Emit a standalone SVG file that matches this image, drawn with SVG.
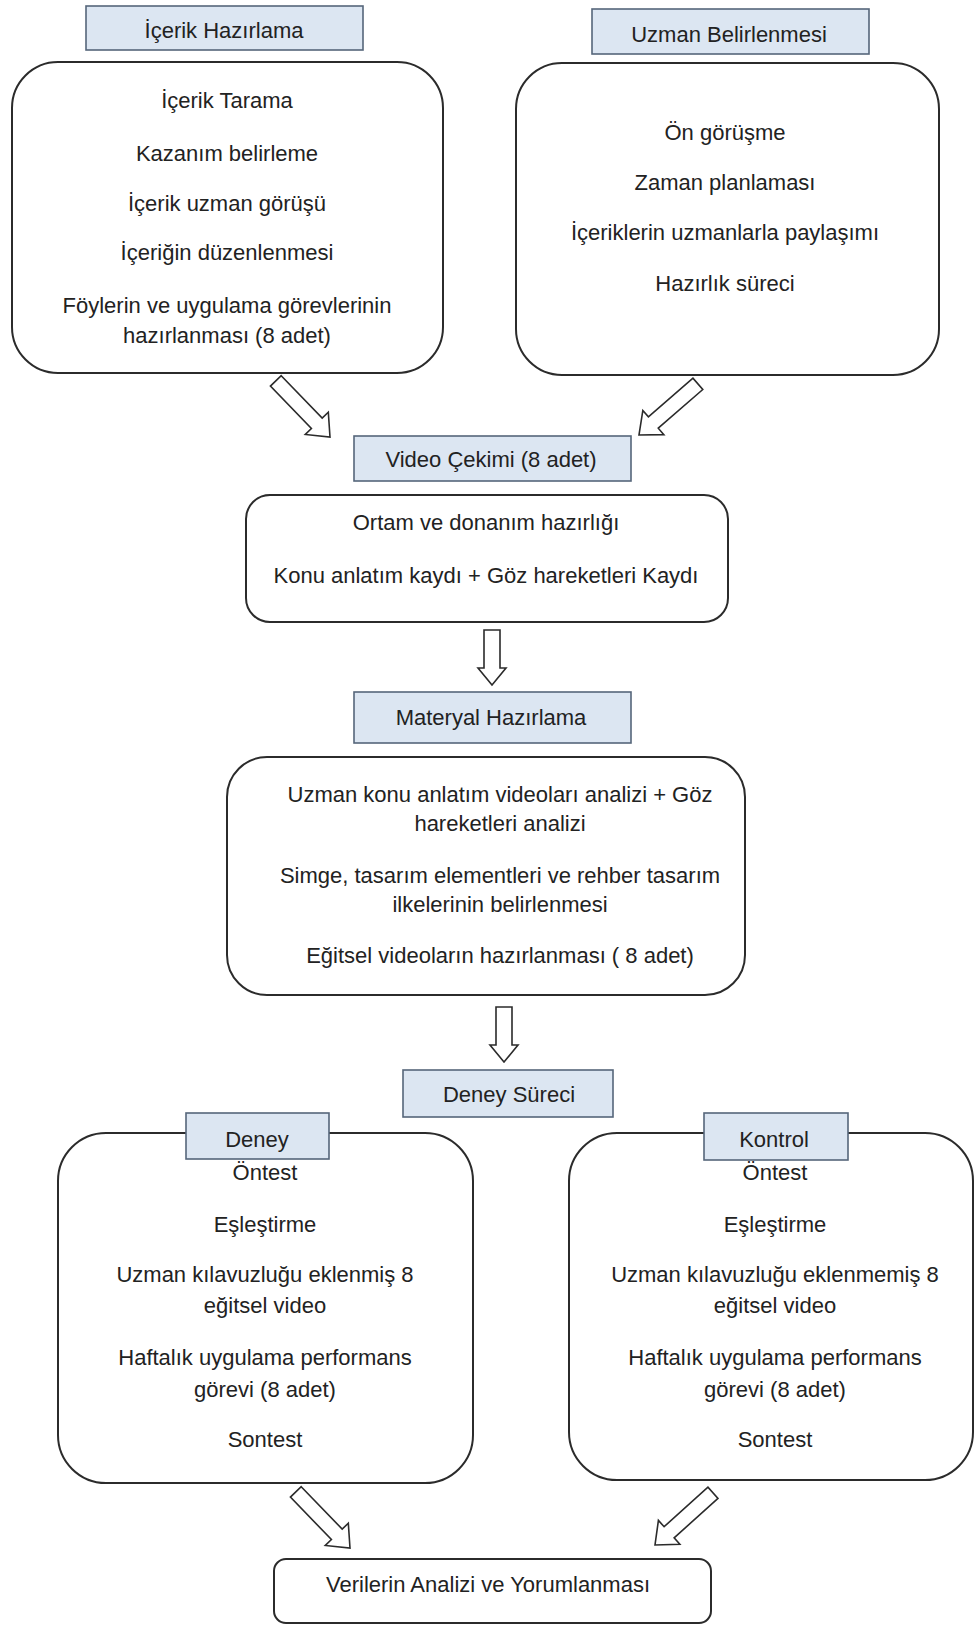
<svg xmlns="http://www.w3.org/2000/svg" width="975" height="1627" viewBox="0 0 975 1627">
<style>
.box{fill:#ffffff;stroke:#2b2b2b;stroke-width:2}
.hdr{fill:#dce6f2;stroke:#56667a;stroke-width:1.6}
.t{font-family:"Liberation Sans",Arial,sans-serif;font-size:22px;fill:#222;text-anchor:middle}
.arr{fill:#ffffff;stroke:#2b2b2b;stroke-width:1.6;stroke-linejoin:miter}
</style>
<defs>
<path id="a78" d="M -78,-7.5 L -19,-7.5 L -19,-16 L 0,0 L -19,16 L -19,7.5 L -78,7.5 Z"/>
<path id="a55" d="M -55,-8 L -17,-8 L -17,-14 L 0,0 L -17,14 L -17,8 L -55,8 Z"/>
</defs>
<rect width="975" height="1627" fill="#ffffff"/>

<g id="icerik">
<rect class="box" x="12" y="62" width="431" height="311" rx="46"/>
<rect class="hdr" x="86" y="6" width="277" height="44"/>
<text class="t" x="224" y="38">İçerik Hazırlama</text>
<text class="t" x="227" y="108">İçerik Tarama</text>
<text class="t" x="227" y="161">Kazanım belirleme</text>
<text class="t" x="227" y="211">İçerik uzman görüşü</text>
<text class="t" x="227" y="260">İçeriğin düzenlenmesi</text>
<text class="t" x="227" y="313">Föylerin ve uygulama görevlerinin</text>
<text class="t" x="227" y="343">hazırlanması (8 adet)</text>
</g>

<g id="uzman">
<rect class="box" x="516" y="63" width="423" height="312" rx="46"/>
<rect class="hdr" x="592" y="9" width="277" height="45"/>
<text class="t" x="729" y="42">Uzman Belirlenmesi</text>
<text class="t" x="725" y="140">Ön görüşme</text>
<text class="t" x="725" y="190">Zaman planlaması</text>
<text class="t" x="725" y="240">İçeriklerin uzmanlarla paylaşımı</text>
<text class="t" x="725" y="291">Hazırlık süreci</text>
</g>

<g id="video">
<rect class="hdr" x="354" y="436" width="277" height="45"/>
<text class="t" x="491" y="467">Video Çekimi (8 adet)</text>
<rect class="box" x="246" y="495" width="482" height="127" rx="24"/>
<text class="t" x="486" y="530">Ortam ve donanım hazırlığı</text>
<text class="t" x="486" y="583">Konu anlatım kaydı + Göz hareketleri Kaydı</text>
</g>

<g id="materyal">
<rect class="hdr" x="354" y="692" width="277" height="51"/>
<text class="t" x="491" y="725">Materyal Hazırlama</text>
<rect class="box" x="227" y="757" width="518" height="238" rx="40"/>
<text class="t" x="500" y="802">Uzman konu anlatım videoları analizi + Göz</text>
<text class="t" x="500" y="831">hareketleri analizi</text>
<text class="t" x="500" y="883">Simge, tasarım elementleri ve rehber tasarım</text>
<text class="t" x="500" y="912">ilkelerinin belirlenmesi</text>
<text class="t" x="500" y="963">Eğitsel videoların hazırlanması ( 8 adet)</text>
</g>

<g id="deneysureci">
<rect class="hdr" x="403" y="1070" width="210" height="47"/>
<text class="t" x="509" y="1102">Deney Süreci</text>
</g>

<g id="deney">
<rect class="box" x="58" y="1133" width="415" height="350" rx="48"/>
<rect class="hdr" x="186" y="1113" width="143" height="46"/>
<text class="t" x="257" y="1147">Deney</text>
<text class="t" x="265" y="1180">Öntest</text>
<text class="t" x="265" y="1232">Eşleştirme</text>
<text class="t" x="265" y="1282">Uzman kılavuzluğu eklenmiş 8</text>
<text class="t" x="265" y="1313">eğitsel video</text>
<text class="t" x="265" y="1365">Haftalık uygulama performans</text>
<text class="t" x="265" y="1397">görevi (8 adet)</text>
<text class="t" x="265" y="1447">Sontest</text>
</g>

<g id="kontrol">
<rect class="box" x="569" y="1133" width="404" height="347" rx="48"/>
<rect class="hdr" x="704" y="1113" width="144" height="47"/>
<text class="t" x="774" y="1147">Kontrol</text>
<text class="t" x="775" y="1180">Öntest</text>
<text class="t" x="775" y="1232">Eşleştirme</text>
<text class="t" x="775" y="1282">Uzman kılavuzluğu eklenmemiş 8</text>
<text class="t" x="775" y="1313">eğitsel video</text>
<text class="t" x="775" y="1365">Haftalık uygulama performans</text>
<text class="t" x="775" y="1397">görevi (8 adet)</text>
<text class="t" x="775" y="1447">Sontest</text>
</g>

<g id="analiz">
<rect class="box" x="274" y="1559" width="437" height="64" rx="12"/>
<text class="t" x="488" y="1592">Verilerin Analizi ve Yorumlanması</text>
</g>

<g id="connectors">
<use href="#a78" class="arr" transform="translate(330,437) rotate(46)"/>
<use href="#a78" class="arr" transform="translate(639,435) rotate(139)"/>
<use href="#a55" class="arr" transform="translate(492,685) rotate(90)"/>
<use href="#a55" class="arr" transform="translate(504,1062) rotate(90)"/>
<use href="#a78" class="arr" transform="translate(350,1548) rotate(46)"/>
<use href="#a78" class="arr" transform="translate(655,1545) rotate(138)"/>
</g>
</svg>
